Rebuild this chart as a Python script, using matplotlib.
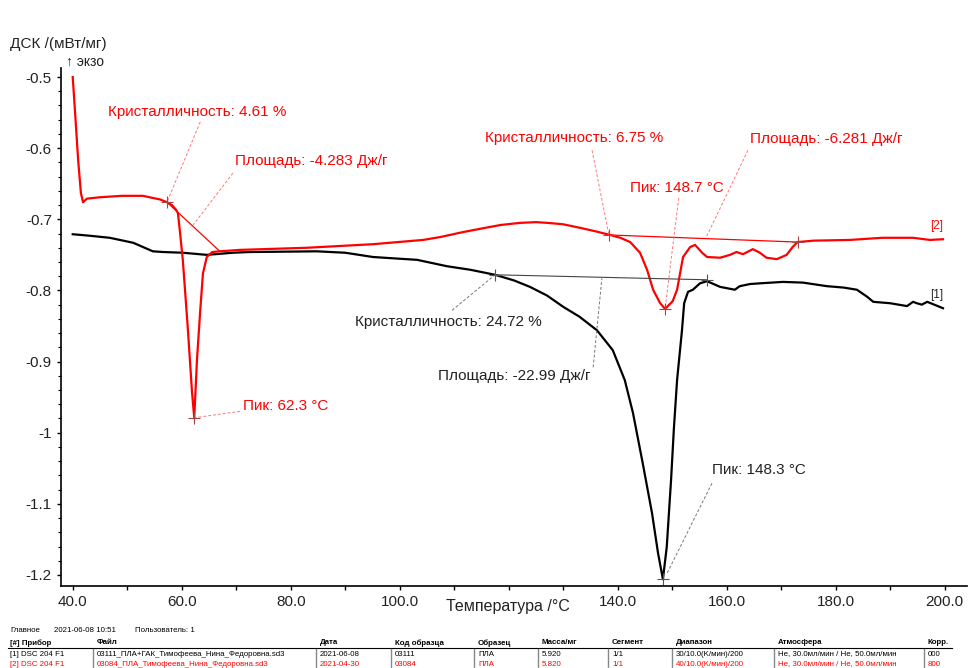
import matplotlib
matplotlib.use('Agg')
import matplotlib.pyplot as plt
from matplotlib.ticker import MultipleLocator, FixedLocator

plt.rcParams['font.family'] = ['Liberation Sans', 'DejaVu Sans']

# curve [1] (black)
black_T = [40.0, 43.0, 46.8, 51.1, 54.7, 56.6, 60.2, 64.6, 69.4, 72.5, 84.8, 90.0,
           95.1, 103.2, 108.7, 113.0, 117.5, 121.0, 123.9, 127.0, 130.0, 133.0,
           136.2, 139.1, 141.3, 142.8, 144.6, 146.3, 147.4, 148.3, 149.0, 149.8,
           150.3, 150.9, 151.8, 152.2, 152.9, 153.8, 155.1, 156.4, 158.8, 161.5,
           162.4, 164.3, 166.1, 170.3, 174.0, 178.4, 181.5, 183.9, 185.8, 186.9,
           190.0, 193.1, 194.2, 194.9, 195.8, 196.8, 199.7]
black_v = [-0.721, -0.723, -0.726, -0.733, -0.745, -0.746, -0.747, -0.750, -0.747,
           -0.746, -0.745, -0.747, -0.753, -0.757, -0.766, -0.771, -0.778, -0.786,
           -0.795, -0.807, -0.823, -0.837, -0.856, -0.884, -0.926, -0.972, -1.043,
           -1.113, -1.169, -1.206, -1.161, -1.066, -0.996, -0.926, -0.856, -0.818,
           -0.802, -0.799, -0.790, -0.787, -0.795, -0.799, -0.794, -0.791, -0.790,
           -0.788, -0.789, -0.794, -0.796, -0.799, -0.809, -0.816, -0.818, -0.822,
           -0.816, -0.818, -0.820, -0.816, -0.825]

# curve [2] (red)
red_T = [40.0, 40.4, 41.0, 41.5, 41.9, 42.6, 45.0, 49.0, 52.9, 54.7, 56.0, 57.3,
         58.2, 58.9, 59.3, 59.6, 60.2, 61.1, 61.9, 62.3, 62.8, 63.4, 63.9, 64.6,
         65.6, 67.0, 70.7, 83.0, 95.1, 104.3, 107.4, 111.6, 115.0, 118.5, 122.1,
         125.0, 127.1, 130.0, 133.1, 136.0, 138.6, 140.5, 142.3, 144.1, 145.4,
         146.5, 147.8, 148.7, 150.1, 150.9, 152.0, 153.3, 154.2, 155.5, 156.4,
         158.8, 160.6, 161.8, 163.0, 164.8, 166.1, 167.3, 169.2, 171.0, 172.1,
         173.0, 176.0, 182.6, 188.5, 194.2, 197.3, 199.7]
red_v = [-0.500, -0.546, -0.617, -0.663, -0.676, -0.671, -0.669, -0.667, -0.667,
         -0.670, -0.672, -0.676, -0.680, -0.686, -0.691, -0.712, -0.757, -0.851,
         -0.944, -0.979, -0.898, -0.828, -0.776, -0.753, -0.746, -0.745, -0.743,
         -0.740, -0.735, -0.729, -0.725, -0.718, -0.713, -0.708, -0.705, -0.704,
         -0.705, -0.707, -0.712, -0.717, -0.722, -0.726, -0.732, -0.747, -0.771,
         -0.799, -0.818, -0.826, -0.815, -0.799, -0.753, -0.739, -0.736, -0.747,
         -0.753, -0.754, -0.750, -0.746, -0.749, -0.742, -0.747, -0.754, -0.756,
         -0.750, -0.739, -0.732, -0.730, -0.729, -0.726, -0.726, -0.729, -0.728]

# evaluation results: (text, text anchor, leader start, leader end)
red_labels = [
    ('Кристалличность: 4.61 %', (46.5, -0.549), (63.4, -0.563), (57.3, -0.676)),
    ('Площадь: -4.283 Дж/г', (69.8, -0.618), (69.4, -0.635), (62.1, -0.708)),
    ('Пик: 62.3 °C', (71.2, -0.962), (70.7, -0.970), (62.3, -0.979)),
    ('Кристалличность: 6.75 %', (115.7, -0.586), (135.3, -0.603), (138.4, -0.722)),
    ('Площадь: -6.281 Дж/г', (164.3, -0.587), (163.9, -0.603), (156.2, -0.726)),
    ('Пик: 148.7 °C', (142.3, -0.656), (151.2, -0.670), (148.7, -0.826)),
]
black_labels = [
    ('Кристалличность: 24.72 %', (91.8, -0.844), (109.6, -0.828), (117.5, -0.778)),
    ('Площадь: -22.99 Дж/г', (107.0, -0.920), (135.5, -0.908), (137.1, -0.783)),
    ('Пик: 148.3 °C', (157.3, -1.052), (157.3, -1.071), (149.1, -1.197)),
]
red_baselines = [((57.3, 67.0), (-0.676, -0.745)), ((138.4, 173.0), (-0.722, -0.732))]
black_baselines = [((117.5, 156.4), (-0.778, -0.785))]
red_marks = [(57.3, -0.676), (62.3, -0.979), (138.4, -0.722), (173.0, -0.732), (148.7, -0.826)]
black_marks = [(117.5, -0.778), (156.4, -0.785), (148.3, -1.206)]

# bottom info table
info_line = ['Главное', '2021-06-08 10:51', 'Пользователь: 1']
table_head = ['[#] Прибор', 'Файл', 'Дата', 'Код образца', 'Образец', 'Масса/мг',
              'Сегмент', 'Диапазон', 'Атмосфера', 'Корр.']
table_rows = [
    ['[1] DSC 204 F1', '03111_ПЛА+ГАК_Тимофеева_Нина_Федоровна.sd3', '2021-06-08', '03111',
     'ПЛА', '5.920', '1/1', '30/10.0(K/мин)/200', 'He, 30.0мл/мин / He, 50.0мл/мин', '000'],
    ['[2] DSC 204 F1', '03084_ПЛА_Тимофеева_Нина_Федоровна.sd3', '2021-04-30', '03084',
     'ПЛА', '5.820', '1/1', '40/10.0(K/мин)/200', 'He, 30.0мл/мин / He, 50.0мл/мин', '800'],
]
row_colors = ['black', 'red']

W, H = 968, 668
fig = plt.figure(figsize=(W / 100, H / 100), dpi=100)
ax = fig.add_axes([61 / W, (H - 586) / H, (967 - 61) / W, (586 - 68) / H])

ax.plot(black_T, black_v, color='black', lw=1.6)
ax.plot(red_T, red_v, color='#ff0000', lw=1.6)

for (xs, ys) in red_baselines:
    ax.plot(xs, ys, color='#ff0000', lw=0.9)
for (xs, ys) in black_baselines:
    ax.plot(xs, ys, color='#444444', lw=0.8)

for txt, pos, p0, p1 in red_labels:
    ax.text(pos[0], pos[1], txt, color='#ff0000', fontsize=11, ha='left', va='center')
    ax.plot([p0[0], p1[0]], [p0[1], p1[1]], color='#ff7777', lw=0.7, ls=(0, (3, 2)))
for txt, pos, p0, p1 in black_labels:
    ax.text(pos[0], pos[1], txt, color='#222222', fontsize=11, ha='left', va='center')
    ax.plot([p0[0], p1[0]], [p0[1], p1[1]], color='#777777', lw=0.7, ls=(0, (3, 2)))

for x, y in red_marks:
    ax.plot(x, y, marker='+', ms=8, mew=0.8, color='#aa4444')
for x, y in black_marks:
    ax.plot(x, y, marker='+', ms=8, mew=0.8, color='#555555')

ax.text(198.6, -0.709, '[2]', color='#ff0000', fontsize=8.5, ha='center', va='center')
ax.text(198.6, -0.806, '[1]', color='#222222', fontsize=8.5, ha='center', va='center')

ax.set_xlim(37.85, 204.1)
ax.set_ylim(-1.2155, -0.4873)
for s in ['top', 'right']:
    ax.spines[s].set_visible(False)
ax.spines['left'].set_linewidth(1.2)
ax.spines['bottom'].set_linewidth(1.2)

xt = [40, 60, 80, 100, 120, 140, 160, 180, 200]
ax.xaxis.set_major_locator(FixedLocator(xt))
ax.set_xticklabels(['%.1f' % t if t != 120 else '' for t in xt])
ax.xaxis.set_minor_locator(MultipleLocator(10))
yt = [-0.5, -0.6, -0.7, -0.8, -0.9, -1.0, -1.1, -1.2]
ax.yaxis.set_major_locator(FixedLocator(yt))
ax.set_yticklabels(['%g' % t for t in yt])
ax.yaxis.set_minor_locator(MultipleLocator(0.02))
ax.tick_params(which='both', direction='out', length=3, width=1, labelsize=11,
               labelcolor='#222222')
ax.tick_params(axis='y', which='minor', length=2, width=0.8)

fig.text(10 / W, 1 - 44 / H, 'ДСК /(мВт/мг)', fontsize=11, color='#222222', va='center')
fig.text(66 / W, 1 - 62 / H, '↑ экзо', fontsize=10, color='#222222', va='center')
fig.text(508 / W, 1 - 606 / H, 'Температура /°C', fontsize=11.5, color='#222222',
         ha='center', va='center')

# info table
for x, t in zip([10, 54, 135], info_line):
    fig.text(x / W, 1 - 631 / H, t, fontsize=5.7, va='center')
col_x = [10, 97, 320, 395, 478, 542, 612, 676, 778, 928]
for x, t in zip(col_x, table_head):
    fig.text(x / W, 1 - 643 / H, t, fontsize=5.7, fontweight='bold', va='center')
for r, (row, c) in enumerate(zip(table_rows, row_colors)):
    for x, t in zip(col_x, row):
        fig.text(x / W, 1 - (654 + 10 * r) / H, t, fontsize=5.7, color=c, va='center')
fig.add_artist(plt.Line2D([8 / W, 952 / W], [1 - 648 / H, 1 - 648 / H],
                          color='black', lw=0.8, transform=fig.transFigure))
for x in col_x[1:]:
    fig.add_artist(plt.Line2D([(x - 4) / W, (x - 4) / W], [1 - 649 / H, 0.0],
                              color='#888888', lw=1.0, transform=fig.transFigure))

fig.savefig('out.png', dpi=100)
